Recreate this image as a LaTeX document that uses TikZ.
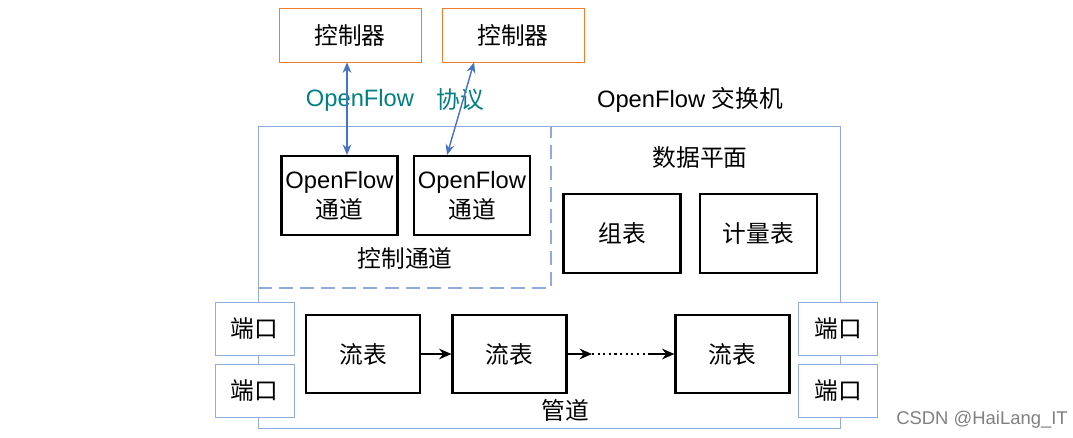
\documentclass[tikz,border=0pt]{standalone}
\usepackage{fontspec}
\setmainfont{Liberation Sans}
\newfontfamily\cjk{Noto Sans CJK SC}
\usetikzlibrary{positioning,arrows.meta}
\definecolor{ctrlorange}{RGB}{237,125,49}
\definecolor{swblue}{RGB}{143,170,220}
\definecolor{arrblue}{RGB}{68,114,196}
\definecolor{teal}{RGB}{0,128,128}
\tikzset{
  txt/.style={font=\fontsize{13.5}{17}\selectfont},
  ctrl/.style={draw=ctrlorange, thin, minimum width=2.84cm, minimum height=1.08cm, txt},
  chan/.style={draw=black, very thick, minimum width=2.32cm, minimum height=1.58cm, align=center, txt, inner sep=1pt},
  tbl/.style={draw=black, very thick, minimum width=2.34cm, minimum height=1.58cm, txt},
  flow/.style={draw=black, very thick, minimum width=2.28cm, minimum height=1.56cm, txt},
  port/.style={draw=swblue, fill=white, thin, minimum width=1.58cm, minimum height=1.06cm, txt},
  link/.style={arrblue, thick, {Stealth[length=6pt,width=5pt]}-{Stealth[length=6pt,width=5pt]}},
  pipe/.style={very thick, -{Stealth[length=7pt,width=6pt]}}
}
\begin{document}
\begin{tikzpicture}[x=0.02cm,y=-0.02cm]
\useasboundingbox (0,0) rectangle (1073,437);
% switch body
\draw[swblue] (258,126) rectangle (840,428);
\draw[swblue, thick, dashed, dash pattern=on 8pt off 4pt] (258,288) -- (551,288) -- (551,126);
% controllers
\node[ctrl] (c1) at (350,35) {\cjk 控制器};
\node[ctrl] (c2) at (513,35) {\cjk 控制器};
\node[txt, text=teal] (proto) at (360,100) {OpenFlow};
\node[txt, text=teal] (proto2) at (460,100) {\cjk 协议};
\node[txt] (sw) at (690,100) {OpenFlow {\cjk 交换机}};
% control channel
\node[chan] (ch1) at (339.5,195.5) {OpenFlow\\{\cjk 通道}};
\node[chan] (ch2) at (472,195.5) {OpenFlow\\{\cjk 通道}};
\node[txt] (cc) at (405,258) {\cjk 控制通道};
\draw[link] ([xshift=0.15cm]ch1.north |- c1.south) -- ([xshift=0.15cm]ch1.north);
\draw[link] ([xshift=-0.78cm]c2.south) -- ([xshift=-0.5cm]ch2.north);
% data plane
\node[txt] (dp) at (700,158) {\cjk 数据平面};
\node[tbl] (grp) at (622,233.5) {\cjk 组表};
\node[tbl] (meter) at (758.5,233.5) {\cjk 计量表};
% ports
\node[port] (p1) at (254.5,328.5) {\cjk 端口};
\node[port] (p2) at (254.5,390.5) {\cjk 端口};
\node[port] (p3) at (838,328.5) {\cjk 端口};
\node[port] (p4) at (838,390.5) {\cjk 端口};
% pipeline
\node[flow] (f1) at (363,354) {\cjk 流表};
\node[flow] (f2) at (509.5,354) {\cjk 流表};
\node[flow] (f3) at (732.5,354) {\cjk 流表};
\coordinate (d1) at (592,354);
\coordinate (d2) at (650,354);
\draw[pipe] (f1) -- (f2);
\draw[pipe] (f2) -- (d1);
\draw[very thick, dotted] (d1) -- (d2);
\draw[pipe] (d2) -- (f3);
\node[txt] (pl) at (565,410) {\cjk 管道};
\node[font=\fontsize{10.5}{12}\selectfont, text=gray] (wm) at (982,420) {CSDN @HaiLang\_IT};
\end{tikzpicture}
\end{document}
